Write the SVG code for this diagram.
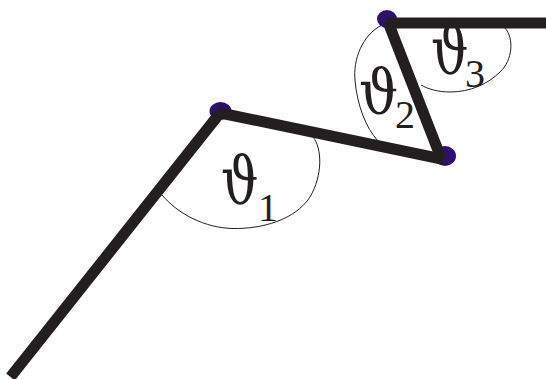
<svg xmlns="http://www.w3.org/2000/svg" width="546" height="379" viewBox="0 0 546 379">
<style>
.link{stroke:#231f20;stroke-width:11;fill:none;stroke-linecap:butt}
.arc{stroke:#231f20;stroke-width:1;fill:none}
.joint{fill:#2d0f72}
.th{font-family:"DejaVu Serif",serif;font-size:50px;fill:#231f20}
.sub{font-family:"Liberation Serif","DejaVu Serif",serif;font-size:40px;fill:#231f20}
</style>
<rect width="546" height="379" fill="#ffffff"/>
<g id="angles">
<path class="arc" d="M313,137 C322,148 323,175 310,197 C295,220 262,229 233,228.5 C205,228 178,214 162,195"/>
<path class="arc" d="M382,25 C362,35 353,60 355,80 C357,105 366,128 378,141"/>
<path class="arc" d="M505,28 C514,38 513,60 500,72 C488,84 470,92 450,92 C438,92 428,89 421,85"/>
</g>
<g id="joint1"><ellipse class="joint" cx="220.5" cy="111" rx="11" ry="9"/></g>
<g id="joint2"><ellipse class="joint" cx="445" cy="156" rx="11" ry="10"/></g>
<g id="joint3"><ellipse class="joint" cx="387" cy="19" rx="10" ry="9"/></g>
<g id="connectors">
<line class="link" x1="10.5" y1="377" x2="220" y2="113"/>
<line class="link" x1="218" y1="112.5" x2="444" y2="159.5"/>
<line class="link" x1="441" y1="158" x2="388" y2="22"/>
<line class="link" x1="386" y1="23" x2="546" y2="23"/>
</g>
<g id="label1"><text class="th" transform="translate(221,203) scale(1.05,1.3)">ϑ</text><text class="sub" x="258" y="221">1</text></g>
<g id="label2"><text class="th" transform="translate(359,113) scale(1.1,1.25)">ϑ</text><text class="sub" x="395" y="128">2</text></g>
<g id="label3"><text class="th" transform="translate(431,73) scale(1.05,1.3)">ϑ</text><text class="sub" x="465" y="87">3</text></g>
</svg>
